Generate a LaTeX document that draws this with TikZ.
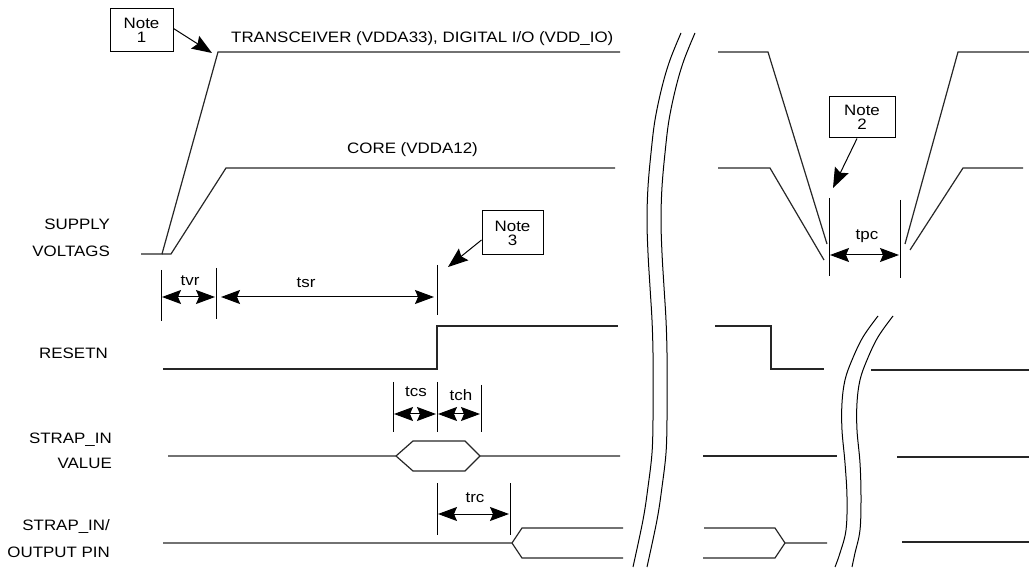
\documentclass[tikz,border=0pt]{standalone}
\usepackage{fontspec}
\setmainfont{Liberation Sans}[FakeStretch=1.12]
\usetikzlibrary{arrows.meta}
\begin{document}
\begin{tikzpicture}[x=1pt,y=-1pt,
  sig/.style={line width=1.2pt, black!85, line join=miter},
  tickline/.style={line width=1pt},
  dimarrow/.style={line width=1pt, {Stealth[length=19pt,width=14pt,inset=3pt]}-{Stealth[length=19pt,width=14pt,inset=3pt]}},
  lbl/.style={font=\fontsize{15.1}{17}\selectfont, inner sep=0pt},
  note/.style={draw, line width=1pt, align=center, font=\fontsize{15.1}{14}\selectfont, inner sep=0pt},
  notearrow/.style={line width=1pt, -{Stealth[length=20pt,width=15pt,inset=3pt]}},
  brk/.style={line width=1pt}
]
\useasboundingbox (0,0) rectangle (1029,569);

% ---- signal labels
\node[lbl,anchor=base west] (ltr) at (231,43) {TRANSCEIVER (VDDA33), DIGITAL I/O (VDD\_IO)};
\node[lbl,anchor=base west] (lcore) at (347,154) {CORE (VDDA12)};
\node[lbl,anchor=base east] (lsup1) at (110,230) {SUPPLY};
\node[lbl,anchor=base east] (lsup2) at (110,257) {VOLTAGS};
\node[lbl,anchor=base east] (lrst) at (108,359) {RESETN};
\node[lbl,anchor=base east] (lsv1) at (112,443) {STRAP\_IN};
\node[lbl,anchor=base east] (lsv2) at (112,468) {VALUE};
\node[lbl,anchor=base east] (lso1) at (110,530) {STRAP\_IN/};
\node[lbl,anchor=base east] (lso2) at (110,557) {OUTPUT PIN};

% ---- waveforms, left part
\draw[sig] (141,254) -- (162,254) -- (218,52) -- (620,52);
\draw[sig] (162,254) -- (171,254) -- (226,168) -- (615,168);
\draw[sig] (163,369) -- (437,369) -- (437,326) -- (618,326);
\draw[sig] (168,456) -- (396,456) -- (413,441) -- (465,441) -- (480,456) -- (620,456);
\draw[sig] (396,456) -- (413,471) -- (465,471) -- (480,456);
\draw[sig] (163,543) -- (512,543) -- (522,528) -- (623,528);
\draw[sig] (512,543) -- (522,558) -- (623,558);

% ---- waveforms, right part
\draw[sig] (718,52) -- (768,52) -- (827,244);
\draw[sig] (718,168) -- (770,168) -- (824,260);
\draw[sig] (905,244) -- (958,52) -- (1029,52);
\draw[sig] (910,250) -- (963,168) -- (1023,168);
\draw[sig] (715,326) -- (771,326) -- (771,369) -- (824,369);
\draw[sig] (871,370) -- (1029,370);
\draw[sig] (703,456) -- (837,456);
\draw[sig] (897,457) -- (1029,457);
\draw[sig] (704,528) -- (775,528) -- (785,543) -- (827,543);
\draw[sig] (703,558) -- (775,558) -- (785,543);
\draw[sig] (902,542) -- (1029,542);

% ---- big break mark
\draw[brk] plot[smooth,tension=0.6] coordinates {(681,33) (670,60) (662,87) (655,120) (651,153) (648,187) (647,220) (648,253) (650,287) (652,320) (653,353) (653,387) (653,420) (652,453) (648,487) (643,520) (633,567)};
\draw[brk] plot[smooth,tension=0.6] coordinates {(695,33) (684,60) (676,87) (669,120) (665,153) (662,187) (661,220) (662,253) (664,287) (666,320) (667,353) (667,387) (667,420) (666,453) (662,487) (657,520) (647,567)};

% ---- small break mark
\draw[brk] plot[smooth,tension=0.6] coordinates {(878,316) (863,337) (852,360) (845,380) (842,403) (842,430) (845,463) (847,497) (846,530) (840,553) (835,567)};
\draw[brk] plot[smooth,tension=0.6] coordinates {(893,316) (878,337) (867,360) (860,380) (857,403) (857,430) (860,463) (861,497) (860,530) (855,553) (852,567)};

% ---- timing ticks
\coordinate (k1t) at (161,270); \coordinate (k1b) at (161,321);
\coordinate (k2t) at (216,268); \coordinate (k2b) at (216,319);
\coordinate (k3t) at (437,265); \coordinate (k3b) at (437,315);
\coordinate (k4t) at (393,382); \coordinate (k4b) at (393,432);
\coordinate (k5t) at (437,382); \coordinate (k5b) at (437,432);
\coordinate (k6t) at (481,385); \coordinate (k6b) at (481,432);
\coordinate (k7t) at (437,483); \coordinate (k7b) at (437,535);
\coordinate (k8t) at (510,483); \coordinate (k8b) at (510,535);
\coordinate (k9t) at (829,198); \coordinate (k9b) at (829,276);
\coordinate (k10t) at (900,200); \coordinate (k10b) at (900,278);
\foreach \k in {1,...,10} {\draw[tickline] (k\k t) -- (k\k b);}

% ---- dimension arrows
\coordinate (tvrL) at (162,297); \coordinate (tvrR) at (215,297);
\coordinate (tsrL) at (221,297); \coordinate (tsrR) at (434,297);
\coordinate (tcsL) at (394,414); \coordinate (tcsR) at (436,414);
\coordinate (tchL) at (438,414); \coordinate (tchR) at (480,414);
\coordinate (trcL) at (438,514); \coordinate (trcR) at (509,514);
\coordinate (tpcL) at (830,255); \coordinate (tpcR) at (899,255);
\draw[dimarrow] (tvrL) -- (tvrR);
\draw[dimarrow] (tsrL) -- (tsrR);
\draw[dimarrow] (tcsL) -- (tcsR);
\draw[dimarrow] (tchL) -- (tchR);
\draw[dimarrow] (trcL) -- (trcR);
\draw[dimarrow] (tpcL) -- (tpcR);

\node[lbl,anchor=base] (ttvr) at (190,286) {tvr};
\node[lbl,anchor=base] (ttsr) at (306,288) {tsr};
\node[lbl,anchor=base] (ttcs) at (416,397) {tcs};
\node[lbl,anchor=base] (ttch) at (461,401) {tch};
\node[lbl,anchor=base] (ttrc) at (475,502) {trc};
\node[lbl,anchor=base] (ttpc) at (867,240) {tpc};

% ---- notes
\node[note, minimum width=63pt, minimum height=43pt] (n1) at (141.5,30.5) {Note\\1};
\node[note, minimum width=61pt, minimum height=44pt] (n3) at (512.5,233) {Note\\3};
\node[note, minimum width=66pt, minimum height=41pt] (n2) at (862,117.5) {Note\\2};
\coordinate (n1t) at (212,53);
\coordinate (n3t) at (448,267);
\coordinate (n2t) at (833,188);
\draw[notearrow] ([yshift=2pt]n1.east) -- (n1t);
\draw[notearrow] ([yshift=-7pt]n3.west) -- (n3t);
\draw[notearrow] ([xshift=-5pt]n2.south) -- (n2t);
\end{tikzpicture}
\end{document}
